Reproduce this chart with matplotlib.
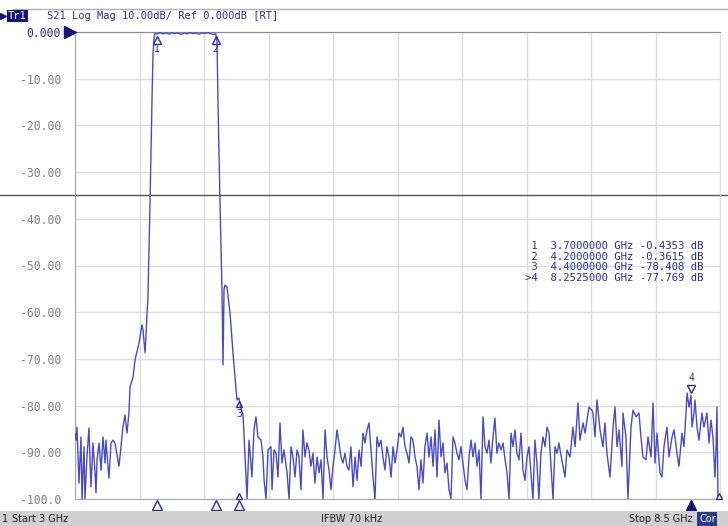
import matplotlib
matplotlib.use('Agg')
import matplotlib.pyplot as plt
import numpy as np
from matplotlib.lines import Line2D
from matplotlib.patches import Rectangle

# S21 trace (GHz, dB)
freq_ghz = [
    3.000, 3.009, 3.017, 3.034, 3.051, 3.060, 3.077, 3.085, 3.102, 3.119,
    3.136, 3.153, 3.171, 3.179, 3.188, 3.205, 3.222, 3.239, 3.256, 3.264,
    3.281, 3.290, 3.307, 3.324, 3.341, 3.375, 3.392, 3.409, 3.426, 3.443,
    3.460, 3.469, 3.495, 3.512, 3.546, 3.571, 3.580, 3.597, 3.605, 3.614,
    3.622, 3.640, 3.657, 3.665, 3.674, 3.682, 3.700, 3.725, 3.750, 3.776,
    3.802, 3.827, 3.853, 3.878, 3.904, 3.929, 3.955, 3.981, 4.006, 4.032,
    4.057, 4.083, 4.109, 4.134, 4.160, 4.185, 4.200, 4.211, 4.219, 4.236,
    4.254, 4.262, 4.271, 4.279, 4.296, 4.322, 4.347, 4.381, 4.398, 4.407,
    4.415, 4.433, 4.450, 4.467, 4.484, 4.509, 4.526, 4.543, 4.560, 4.586,
    4.603, 4.612, 4.629, 4.646, 4.671, 4.680, 4.697, 4.714, 4.731, 4.748,
    4.765, 4.782, 4.808, 4.825, 4.842, 4.859, 4.876, 4.893, 4.910, 4.927,
    4.944, 4.961, 4.978, 4.995, 5.012, 5.029, 5.046, 5.064, 5.081, 5.098,
    5.115, 5.132, 5.149, 5.166, 5.183, 5.200, 5.217, 5.234, 5.251, 5.268,
    5.285, 5.302, 5.319, 5.336, 5.353, 5.371, 5.388, 5.405, 5.422, 5.439,
    5.456, 5.473, 5.490, 5.507, 5.524, 5.541, 5.558, 5.575, 5.592, 5.609,
    5.626, 5.643, 5.660, 5.677, 5.695, 5.712, 5.729, 5.746, 5.763, 5.780,
    5.797, 5.814, 5.831, 5.848, 5.865, 5.882, 5.899, 5.916, 5.933, 5.950,
    5.967, 5.984, 6.002, 6.019, 6.036, 6.053, 6.070, 6.087, 6.104, 6.121,
    6.138, 6.155, 6.172, 6.189, 6.206, 6.223, 6.240, 6.257, 6.274, 6.291,
    6.308, 6.326, 6.343, 6.360, 6.377, 6.394, 6.411, 6.428, 6.445, 6.462,
    6.479, 6.496, 6.513, 6.530, 6.547, 6.564, 6.581, 6.598, 6.615, 6.633,
    6.650, 6.667, 6.684, 6.701, 6.718, 6.735, 6.752, 6.769, 6.786, 6.803,
    6.820, 6.837, 6.854, 6.871, 6.888, 6.905, 6.922, 6.939, 6.956, 6.973,
    6.991, 7.008, 7.025, 7.042, 7.059, 7.076, 7.093, 7.110, 7.127, 7.136,
    7.178, 7.195, 7.221, 7.246, 7.264, 7.289, 7.306, 7.332, 7.349, 7.383,
    7.408, 7.417, 7.434, 7.451, 7.477, 7.502, 7.519, 7.536, 7.562, 7.588,
    7.605, 7.622, 7.639, 7.664, 7.673, 7.698, 7.715, 7.741, 7.758, 7.784,
    7.809, 7.826, 7.843, 7.869, 7.886, 7.912, 7.929, 7.946, 7.963, 7.988,
    8.005, 8.022, 8.048, 8.065, 8.091, 8.108, 8.133, 8.150, 8.176, 8.193,
    8.210, 8.219, 8.236, 8.2525, 8.261, 8.278, 8.287, 8.304, 8.321, 8.346,
    8.363, 8.389, 8.406, 8.423, 8.440, 8.457, 8.466, 8.474, 8.483, 8.500,
]
s21_db = [
    -86.0, -87.4, -84.6, -96.6, -86.7, -100.0, -88.8, -100.0, -91.0, -84.8,
    -97.4, -88.0, -94.4, -98.7, -91.6, -88.0, -93.8, -86.7, -92.3, -87.4,
    -93.0, -95.5, -88.0, -87.4, -88.0, -93.0, -88.8, -84.6, -82.0, -85.9,
    -81.6, -76.0, -73.9, -70.2, -66.6, -62.7, -63.8, -68.7, -65.3, -60.2,
    -57.0, -36.0, -14.0, -5.0, -1.2, -0.3, -0.44, -0.15, -0.4, -0.2,
    -0.45, -0.15, -0.35, -0.2, -0.5, -0.25, -0.4, -0.15, -0.35, -0.2,
    -0.45, -0.2, -0.3, -0.15, -0.4, -0.5, -0.36, -2.0, -14.6, -36.0,
    -56.0, -71.3, -55.0, -54.2, -54.6, -60.2, -68.7, -78.8, -78.4, -79.4,
    -80.5, -82.0, -91.0, -100.0, -87.4, -95.3, -85.2, -82.4, -86.7, -87.4,
    -91.0, -95.9, -100.0, -89.5, -88.8, -98.0, -89.5, -90.2, -95.3, -83.7,
    -92.3, -89.5, -94.4, -100.0, -88.8, -91.0, -95.3, -89.5, -91.0, -98.0,
    -85.2, -91.0, -88.0, -89.5, -93.0, -90.2, -96.6, -91.0, -94.4, -91.6,
    -100.0, -85.2, -91.0, -93.8, -98.0, -93.0, -89.5, -85.2, -88.0, -91.0,
    -92.3, -90.2, -93.0, -93.8, -88.8, -97.4, -91.0, -96.0, -89.5, -93.0,
    -85.9, -88.0, -85.2, -83.7, -89.5, -95.3, -100.0, -86.7, -88.8, -87.4,
    -91.0, -93.8, -88.8, -91.0, -95.3, -88.8, -92.3, -89.5, -85.9, -86.7,
    -84.6, -88.8, -90.2, -92.3, -86.7, -87.4, -91.0, -93.0, -98.0, -91.6,
    -96.6, -88.8, -85.9, -91.0, -86.7, -93.0, -85.2, -95.3, -83.1, -91.0,
    -88.0, -94.4, -92.3, -98.0, -100.0, -86.7, -88.0, -90.2, -91.6, -88.8,
    -92.3, -96.0, -98.0, -91.0, -87.4, -91.0, -88.0, -93.0, -89.5, -100.0,
    -82.4, -88.8, -90.2, -87.4, -92.3, -86.7, -82.7, -90.2, -88.0, -89.5,
    -88.0, -91.6, -94.4, -100.0, -85.9, -88.8, -85.2, -90.2, -91.6, -85.9,
    -93.8, -96.0, -91.0, -88.8, -94.4, -100.0, -87.4, -92.3, -100.0, -90.2,
    -86.7, -88.8, -84.6, -85.9, -93.0, -100.0, -88.8, -90.2, -88.0, -89.5,
    -95.3, -89.5, -91.0, -84.6, -88.8, -79.4, -87.4, -83.7, -85.9, -80.3,
    -81.0, -81.6, -86.7, -78.8, -85.2, -88.8, -83.7, -90.2, -95.3, -84.6,
    -80.3, -88.8, -85.2, -93.0, -81.6, -86.7, -100.0, -84.6, -81.0, -82.4,
    -81.6, -86.7, -91.0, -91.6, -86.7, -91.0, -79.4, -92.3, -85.9, -94.4,
    -95.3, -88.8, -84.6, -91.0, -86.7, -85.2, -90.2, -93.0, -85.9, -88.8,
    -81.6, -77.3, -80.3, -77.8, -84.6, -81.6, -78.8, -84.6, -87.4, -81.6,
    -84.6, -81.6, -88.0, -83.1, -86.7, -95.3, -89.5, -80.3, -100.0, -99.0,
]

marker_ids = ['1', '2', '3', '4']
marker_freq = [3.7, 4.2, 4.4, 8.2525]
marker_db = [-0.4353, -0.3615, -78.408, -77.769]

start_ghz = 3.0
stop_ghz = 8.5
y_ticks = list(range(-100, 1, 10))
limit_db = -35.0

blue = '#2c2ca8'
trace_blue = '#4a4ac8'
gray_txt = '#808080'
W, H = 728, 526


def fx(x):
    return x / W


def fy(y):
    return 1 - y / H


fig = plt.figure(figsize=(W / 100, H / 100), dpi=100)
fig.patch.set_facecolor('white')
ax = fig.add_axes([fx(75), fy(499), 645 / W, 467 / H])
ax.set_xlim(start_ghz, stop_ghz)
ax.set_ylim(-100, 0)

ax.set_xticks(np.linspace(start_ghz, stop_ghz, 11))
ax.set_xticklabels([])
ax.set_yticks(y_ticks)
ylabels = []
for v in y_ticks:
    if v == 0:
        ylabels.append('0.000')
    elif v == -100:
        ylabels.append('-100.0')
    else:
        ylabels.append('%.2f' % v)
ax.set_yticklabels(ylabels, family='DejaVu Sans Mono', fontsize=8.3)
for lab, v in zip(ax.get_yticklabels(), y_ticks):
    lab.set_color(blue if v == 0 else gray_txt)
ax.tick_params(length=0, pad=10)
ax.grid(color='#dddddd', lw=1)
ax.set_axisbelow(True)
ax.spines['left'].set_color('#a8a8a8')
ax.spines['bottom'].set_color('#a8a8a8')
ax.spines['top'].set_color('#8c8c8c')
ax.spines['right'].set_color('#dddddd')

# limit line across the whole screen
ax.axhline(limit_db, xmin=-75 / 645, xmax=(W - 75) / 645, color='#555555',
           lw=1, clip_on=False, zorder=1)

ax.plot(freq_ghz, s21_db, color=trace_blue, lw=1.0, zorder=3)

# markers on the trace
for mid, f, d in zip(marker_ids, marker_freq, marker_db):
    if d > -5:
        ax.plot(f, -1.8, marker='^', ms=6, mfc='none', mec=blue, mew=1, zorder=4)
        ax.text(f, -3.6, mid, color=blue, fontsize=7, ha='center', va='center',
                family='DejaVu Sans Mono')
    elif mid == '4':
        ax.plot(f, d + 1.4, marker='v', ms=6, mfc='none', mec=blue, mew=1, zorder=4)
        ax.text(f, d + 3.6, mid, color=blue, fontsize=7, ha='center', va='center',
                family='DejaVu Sans Mono')
    else:
        ax.plot(f, d - 1.3, marker='^', ms=5, mfc='none', mec=blue, mew=1, zorder=4)
        ax.text(f, d - 3.4, mid, color=blue, fontsize=7, ha='center', va='center',
                family='DejaVu Sans Mono')

# marker positions below the graticule
xt = ax.get_xaxis_transform()
for mid, f in zip(marker_ids, marker_freq):
    if mid == '4':
        ax.plot(f, -0.013, transform=xt, marker='^', ms=7, color='#14147a',
                clip_on=False, zorder=5)
    else:
        ax.plot(f, -0.013, transform=xt, marker='^', ms=7, mfc='white', mec=blue,
                mew=1, clip_on=False, zorder=5)
ax.plot([marker_freq[2], stop_ghz - 0.01], [0.006, 0.006], transform=xt, ls='none',
        marker='^', ms=5, mfc='white', mec=blue, mew=1, clip_on=False, zorder=5)

# marker table
for i, (mid, f, d) in enumerate(zip(marker_ids, marker_freq, marker_db)):
    tag = ('>' + mid) if mid == '4' else (' ' + mid)
    if abs(d) < 1:
        val = '%.4f' % d
    else:
        val = '%.3f' % d
    fig.text(fx(525), fy(246 + i * 10.6), '%s  %.7f GHz %s dB' % (tag, f, val),
             color=blue, fontsize=7.7, family='DejaVu Sans Mono', va='center')

# reference level arrow
fig.add_artist(Line2D([fx(70)], [fy(32)], marker='>', ms=8, color='#14147a',
                      transform=fig.transFigure))

# header
fig.add_artist(Line2D([fx(13), 1], [fy(9), fy(9)], color='#b0b0b0', lw=1,
                      transform=fig.transFigure))
fig.add_artist(Line2D([fx(3)], [fy(16)], marker='>', ms=5, color='#14147a',
                      transform=fig.transFigure))
fig.text(fx(8), fy(16), 'Tr1', color='white', fontsize=7.5, family='DejaVu Sans Mono',
         va='center', bbox=dict(facecolor='#14147a', edgecolor='none', pad=1.0))
fig.text(fx(47), fy(16), 'S21 Log Mag 10.00dB/ Ref 0.000dB [RT]', color=blue,
         fontsize=7.5, family='DejaVu Sans Mono', va='center')

# status bar
fig.add_artist(Rectangle((0, 0), 1, 15 / H, transform=fig.transFigure,
                         facecolor='#d0d0d0', edgecolor='none'))
fig.text(fx(2), fy(519), '1', fontsize=7, color='#202020', va='center')
fig.text(fx(12), fy(519), 'Start 3 GHz', fontsize=7, color='#202020', va='center')
fig.text(fx(352), fy(519), 'IFBW 70 kHz', fontsize=7, color='#202020', va='center',
         ha='center')
fig.text(fx(693), fy(519), 'Stop 8.5 GHz', fontsize=7, color='#202020', va='center',
         ha='right')
fig.text(fx(699), fy(519), 'Cor', fontsize=7, color='white', va='center',
         bbox=dict(facecolor='#2a3c8c', edgecolor='none', pad=1.2))

fig.savefig('out.png', dpi=100)
